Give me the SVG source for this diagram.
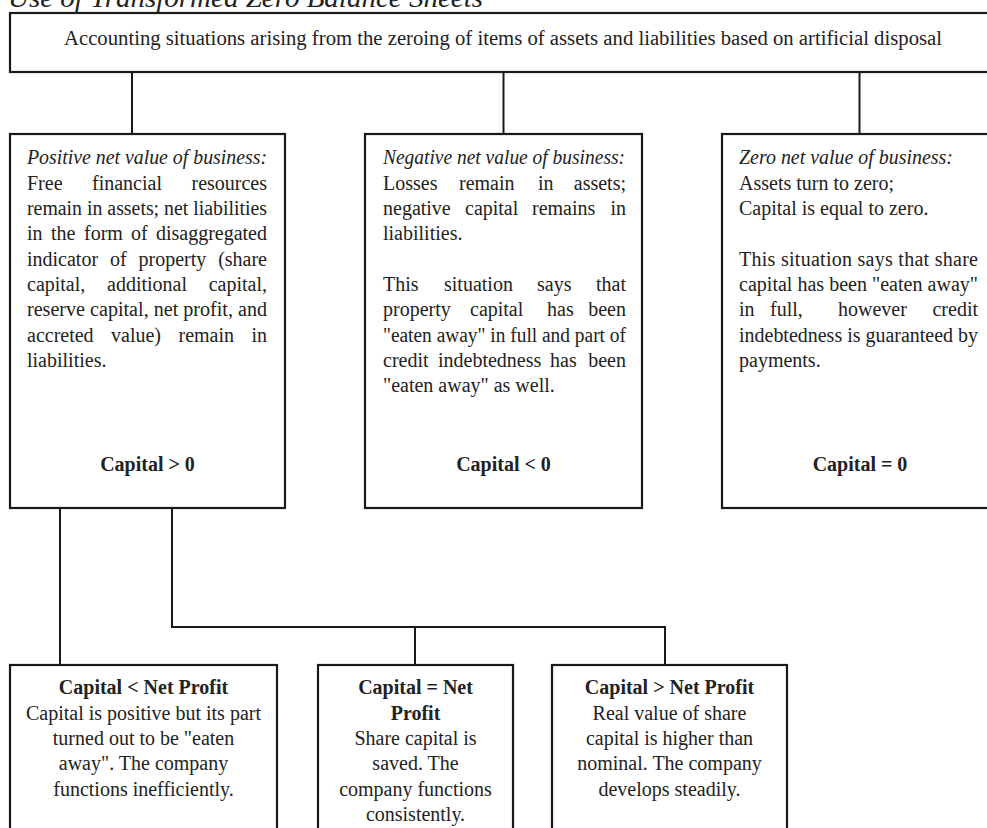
<svg xmlns="http://www.w3.org/2000/svg" width="987" height="828" viewBox="0 0 987 828">
<style>
  .box { fill: #ffffff; stroke: #1a1a1a; stroke-width: 2.2; }
  .con { fill: none; stroke: #1a1a1a; stroke-width: 2; }
  text { font-family: "Liberation Serif", "Times New Roman", serif; font-size: 20px; fill: #222222; }
  .it { font-style: italic; }
  .b { font-weight: bold; }
  .c { text-anchor: middle; }
  .e { text-anchor: end; }
  .title { font-size: 28px; font-style: italic; }
</style>
<rect width="987" height="828" fill="#ffffff"/>
<text class="title" x="8" y="7" textLength="475" lengthAdjust="spacingAndGlyphs">Use of Transformed Zero Balance Sheets</text>

<g id="connectors">
  <path class="con" d="M132,72 V134"/>
  <path class="con" d="M503.5,72 V134"/>
  <path class="con" d="M859.5,72 V134"/>
  <path class="con" d="M60,508 V665"/>
  <path class="con" d="M172,508 V627 H665 V665"/>
  <path class="con" d="M415,627 V665"/>
</g>

<g id="root">
  <rect class="box" x="10" y="13" width="995" height="59"/>
  <text x="64" y="45" textLength="878" lengthAdjust="spacingAndGlyphs">Accounting situations arising from the zeroing of items of assets and liabilities based on artificial disposal</text>
</g>

<g id="positive">
  <rect class="box" x="10" y="134" width="275" height="374"/>
  <text class="it" x="27" y="164" textLength="240" lengthAdjust="spacingAndGlyphs">Positive net value of business:</text>
  <text y="189.5"><tspan x="27">Free</tspan><tspan x="92">financial</tspan><tspan class="e" x="267">resources</tspan></text>
  <text x="27" y="215" textLength="240" lengthAdjust="spacingAndGlyphs">remain in assets; net liabilities</text>
  <text y="240"><tspan x="27">in</tspan><tspan x="51">the</tspan><tspan x="84">form</tspan><tspan x="131">of</tspan><tspan class="e" x="267">disaggregated</tspan></text>
  <text y="265.5"><tspan x="27">indicator</tspan><tspan x="110">of</tspan><tspan x="138.5">property</tspan><tspan class="e" x="267">(share</tspan></text>
  <text y="291"><tspan x="27">capital,</tspan><tspan x="107">additional</tspan><tspan class="e" x="267">capital,</tspan></text>
  <text x="27" y="316" textLength="240" lengthAdjust="spacingAndGlyphs">reserve capital, net profit, and</text>
  <text y="341.5"><tspan x="27">accreted</tspan><tspan x="111">value)</tspan><tspan x="178.5">remain</tspan><tspan class="e" x="267">in</tspan></text>
  <text x="27" y="367">liabilities.</text>
  <text class="b c" x="147.5" y="471">Capital &gt; 0</text>
</g>

<g id="negative">
  <rect class="box" x="365" y="134" width="277" height="374"/>
  <text class="it" x="383" y="164" textLength="242" lengthAdjust="spacingAndGlyphs">Negative net value of business:</text>
  <text y="189.5"><tspan x="383">Losses</tspan><tspan x="459">remain</tspan><tspan x="538">in</tspan><tspan class="e" x="626">assets;</tspan></text>
  <text y="215"><tspan x="383">negative</tspan><tspan x="465">capital</tspan><tspan x="532">remains</tspan><tspan class="e" x="626">in</tspan></text>
  <text x="383" y="240">liabilities.</text>
  <text y="291"><tspan x="383">This</tspan><tspan x="444">situation</tspan><tspan x="537">says</tspan><tspan class="e" x="626">that</tspan></text>
  <text y="316"><tspan x="383">property</tspan><tspan x="470">capital</tspan><tspan x="547">has</tspan><tspan class="e" x="626">been</tspan></text>
  <text x="383" y="341.5" textLength="243" lengthAdjust="spacingAndGlyphs">"eaten away" in full and part of</text>
  <text y="367"><tspan x="383">credit</tspan><tspan x="438">indebtedness</tspan><tspan x="550">has</tspan><tspan class="e" x="626">been</tspan></text>
  <text x="383" y="392">"eaten away" as well.</text>
  <text class="b c" x="503.5" y="471">Capital &lt; 0</text>
</g>

<g id="zero">
  <rect class="box" x="722" y="134" width="280" height="374"/>
  <text class="it" x="739" y="164" textLength="214" lengthAdjust="spacingAndGlyphs">Zero net value of business:</text>
  <text x="739" y="189.5">Assets turn to zero;</text>
  <text x="739" y="215">Capital is equal to zero.</text>
  <text x="739" y="265.5" textLength="239" lengthAdjust="spacing">This situation says that share</text>
  <text x="739" y="291" textLength="239" lengthAdjust="spacingAndGlyphs">capital has been "eaten away"</text>
  <text y="316"><tspan x="739">in</tspan><tspan x="770">full,</tspan><tspan x="838">however</tspan><tspan class="e" x="978">credit</tspan></text>
  <text x="739" y="341.5" textLength="239" lengthAdjust="spacingAndGlyphs">indebtedness is guaranteed by</text>
  <text x="739" y="367">payments.</text>
  <text class="b c" x="860" y="471">Capital = 0</text>
</g>

<g id="cap-less">
  <rect class="box" x="10" y="665" width="267" height="200"/>
  <text class="b c" x="143.5" y="694">Capital &lt; Net Profit</text>
  <text class="c" x="143.5" y="719.5">Capital is positive but its part</text>
  <text class="c" x="143.5" y="745">turned out to be "eaten</text>
  <text class="c" x="143.5" y="770">away". The company</text>
  <text class="c" x="143.5" y="795.5">functions inefficiently.</text>
</g>

<g id="cap-equal">
  <rect class="box" x="318" y="665" width="195" height="200"/>
  <text class="b c" x="415.5" y="694">Capital = Net</text>
  <text class="b c" x="415.5" y="719.5">Profit</text>
  <text class="c" x="415.5" y="745">Share capital is</text>
  <text class="c" x="415.5" y="770">saved. The</text>
  <text class="c" x="415.5" y="795.5">company functions</text>
  <text class="c" x="415.5" y="821">consistently.</text>
</g>

<g id="cap-greater">
  <rect class="box" x="552" y="665" width="235" height="200"/>
  <text class="b c" x="669.5" y="694">Capital &gt; Net Profit</text>
  <text class="c" x="669.5" y="719.5">Real value of share</text>
  <text class="c" x="669.5" y="745">capital is higher than</text>
  <text class="c" x="669.5" y="770">nominal. The company</text>
  <text class="c" x="669.5" y="795.5">develops steadily.</text>
</g>
</svg>
